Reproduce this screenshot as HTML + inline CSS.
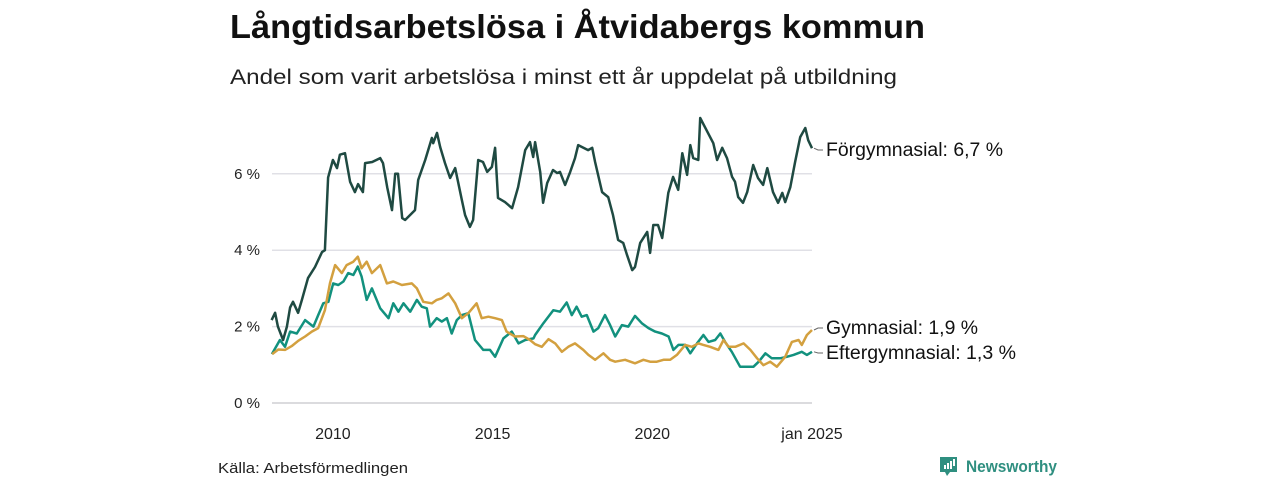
<!DOCTYPE html>
<html><head><meta charset="utf-8">
<style>
body{margin:0;background:#fff;width:1280px;height:480px;overflow:hidden;font-family:"Liberation Sans","DejaVu Sans",sans-serif;}
svg text{font-family:"Liberation Sans","DejaVu Sans",sans-serif;}
</style></head><body>
<svg width="1280" height="480" viewBox="0 0 1280 480">
<text x="230" y="38" font-size="33" font-weight="bold" fill="#111" textLength="695" lengthAdjust="spacingAndGlyphs">Långtidsarbetslösa i Åtvidabergs kommun</text>
<text x="230" y="84" font-size="21" fill="#222" textLength="667" lengthAdjust="spacingAndGlyphs">Andel som varit arbetslösa i minst ett år uppdelat på utbildning</text>
<g id="grid"></g><g id="series"></g><g id="labels"></g>
<text x="218" y="473" font-size="15" fill="#222" textLength="190" lengthAdjust="spacingAndGlyphs">Källa: Arbetsförmedlingen</text>
<g>
<path d="M940 457h17v15h-7l-3 4-2-4h-5z" fill="#2f8f80"/>
<rect x="944" y="465" width="2" height="4" fill="#fff"/><rect x="947" y="463" width="2" height="6" fill="#fff"/><rect x="950" y="461" width="2" height="8" fill="#fff"/><rect x="953" y="459" width="2" height="7" fill="#fff"/>
<text x="966" y="472" font-size="17" font-weight="bold" fill="#2f8f80" textLength="91" lengthAdjust="spacingAndGlyphs">Newsworthy</text>
</g>
</svg>
<script>
const yTicks=[0,2,4,6];
const xTicks=[2010,2015,2020,2025];
const xTickLabels=["2010","2015","2020","jan 2025"];
const forT=[2008.08,2008.19,2008.28,2008.44,2008.56,2008.66,2008.75,2008.91,2009.03,2009.22,2009.44,2009.66,2009.75,2009.85,2010.0,2010.13,2010.22,2010.38,2010.54,2010.69,2010.79,2010.94,2011.01,2011.23,2011.48,2011.57,2011.70,2011.85,2011.95,2012.04,2012.17,2012.26,2012.57,2012.67,2012.89,2013.10,2013.14,2013.26,2013.36,2013.51,2013.67,2013.83,2014.04,2014.14,2014.29,2014.39,2014.55,2014.70,2014.83,2014.98,2015.08,2015.17,2015.39,2015.61,2015.80,2016.02,2016.17,2016.27,2016.33,2016.49,2016.58,2016.71,2016.89,2017.02,2017.11,2017.27,2017.43,2017.58,2017.68,2017.99,2018.12,2018.21,2018.43,2018.62,2018.77,2018.93,2019.09,2019.21,2019.37,2019.46,2019.62,2019.84,2019.93,2020.03,2020.18,2020.31,2020.50,2020.65,2020.81,2020.94,2021.09,2021.19,2021.28,2021.44,2021.50,2021.91,2022.03,2022.19,2022.34,2022.50,2022.59,2022.69,2022.84,2022.97,2023.16,2023.31,2023.47,2023.60,2023.78,2023.94,2024.07,2024.16,2024.32,2024.47,2024.63,2024.79,2024.88,2025.0];
const forV=[2.17,2.36,2.0,1.65,2.0,2.5,2.65,2.36,2.7,3.27,3.56,3.95,4.0,5.9,6.36,6.15,6.5,6.54,5.79,5.52,5.73,5.52,6.28,6.31,6.41,6.28,5.65,5.05,6.0,6.0,4.84,4.79,5.05,5.84,6.36,6.94,6.8,7.07,6.7,6.28,5.89,6.15,5.31,4.92,4.61,4.79,6.36,6.31,6.05,6.18,6.68,5.37,5.26,5.10,5.65,6.62,6.83,6.44,6.83,6.05,5.24,5.76,6.10,6.02,6.05,5.71,6.05,6.41,6.75,6.62,6.68,6.31,5.52,5.39,4.92,4.27,4.19,3.87,3.48,3.56,4.19,4.48,3.93,4.66,4.66,4.32,5.50,5.92,5.58,6.54,5.97,6.75,6.41,6.36,7.46,6.80,6.36,6.68,6.41,5.92,5.79,5.39,5.24,5.52,6.23,5.89,5.71,6.15,5.52,5.24,5.50,5.26,5.65,6.31,6.96,7.20,6.88,6.67];
const gymT=[2008.10,2008.29,2008.50,2008.71,2008.92,2009.13,2009.34,2009.54,2009.75,2009.91,2010.07,2010.28,2010.43,2010.64,2010.78,2010.90,2011.06,2011.22,2011.48,2011.69,2011.89,2012.16,2012.47,2012.63,2012.83,2013.10,2013.25,2013.41,2013.62,2013.83,2014.04,2014.24,2014.50,2014.66,2014.87,2015.08,2015.29,2015.44,2015.70,2015.96,2016.17,2016.33,2016.54,2016.75,2016.96,2017.17,2017.37,2017.58,2017.84,2018.00,2018.21,2018.47,2018.68,2018.84,2019.15,2019.46,2019.72,2019.93,2020.14,2020.35,2020.56,2020.77,2021.03,2021.24,2021.45,2021.60,2021.81,2022.07,2022.23,2022.39,2022.60,2022.86,2023.07,2023.28,2023.48,2023.69,2023.90,2024.16,2024.37,2024.58,2024.68,2024.84,2025.0];
const gymV=[1.28,1.40,1.39,1.49,1.63,1.74,1.87,1.96,2.43,3.14,3.61,3.40,3.61,3.70,3.83,3.53,3.70,3.40,3.61,3.13,3.18,3.09,3.13,3.00,2.65,2.61,2.70,2.74,2.87,2.61,2.22,2.35,2.61,2.22,2.26,2.22,2.17,1.87,1.74,1.75,1.65,1.54,1.47,1.67,1.56,1.34,1.47,1.56,1.39,1.26,1.13,1.30,1.13,1.08,1.13,1.04,1.13,1.08,1.08,1.13,1.13,1.26,1.52,1.47,1.56,1.52,1.47,1.39,1.65,1.47,1.47,1.56,1.39,1.17,0.99,1.08,0.95,1.21,1.60,1.65,1.52,1.78,1.91];
const eftT=[2008.09,2008.34,2008.50,2008.66,2008.87,2009.13,2009.39,2009.54,2009.70,2009.86,2010.01,2010.17,2010.33,2010.48,2010.64,2010.78,2010.90,2011.06,2011.22,2011.48,2011.74,2011.89,2012.05,2012.21,2012.42,2012.63,2012.78,2012.94,2013.04,2013.25,2013.41,2013.57,2013.72,2013.88,2014.04,2014.24,2014.45,2014.71,2014.92,2015.08,2015.34,2015.60,2015.81,2016.02,2016.28,2016.33,2016.59,2016.90,2017.11,2017.32,2017.48,2017.63,2017.79,2017.95,2018.16,2018.31,2018.52,2018.68,2018.84,2019.05,2019.25,2019.46,2019.67,2019.88,2020.09,2020.30,2020.51,2020.66,2020.82,2021.03,2021.19,2021.40,2021.60,2021.76,2021.97,2022.13,2022.28,2022.49,2022.75,2022.96,2023.17,2023.33,2023.54,2023.74,2024.00,2024.21,2024.42,2024.68,2024.84,2025.0];
const eftV=[1.28,1.65,1.47,1.87,1.82,2.17,2.00,2.30,2.61,2.65,3.13,3.09,3.18,3.40,3.35,3.57,3.31,2.70,3.00,2.48,2.22,2.61,2.39,2.61,2.39,2.70,2.52,2.48,2.00,2.22,2.13,2.22,1.82,2.17,2.30,2.35,1.65,1.39,1.39,1.21,1.69,1.87,1.56,1.65,1.69,1.78,2.09,2.43,2.39,2.63,2.30,2.52,2.26,2.30,1.87,1.96,2.30,2.04,1.74,2.04,2.00,2.28,2.09,1.96,1.87,1.82,1.74,1.39,1.52,1.52,1.30,1.56,1.78,1.60,1.65,1.82,1.60,1.34,0.95,0.95,0.95,1.08,1.30,1.17,1.17,1.21,1.26,1.34,1.26,1.34];
const seriesNames=["Förgymnasial","Gymnasial","Eftergymnasial"];
const lastLabels=["6,7","1,9","1,3"];

const NS="http://www.w3.org/2000/svg";
const X0=269,X1=812,Y0=403,Ypp=38.2;
const xs=t=>X0+(t-2008)*(X1-X0)/17;
const ys=v=>Y0-v*Ypp;
function mk(tag,attrs,parent){const e=document.createElementNS(NS,tag);for(const k in attrs)e.setAttribute(k,attrs[k]);parent.appendChild(e);return e;}
const grid=document.getElementById('grid');
yTicks.forEach(v=>{
  const l=mk('line',{x1:272,x2:812,y1:ys(v),y2:ys(v),stroke:v===0?'#cfcfd4':'#e0e0e6','stroke-width':1.5},grid);
  
  
  const t=mk('text',{x:260,y:ys(v)+5,'font-size':15,fill:'#222','text-anchor':'end'},grid);
  t.textContent=v+' %';
  
  
});
xTicks.forEach((v,i)=>{
  const t=mk('text',{x:xs(v),y:439,'font-size':16,fill:'#222','text-anchor':'middle'},grid);
  t.textContent=xTickLabels[i];
  
  
});
const ser=document.getElementById('series');
const defs=[[forT,forV,'#1f4a42'],[gymT,gymV,'#d3a03f'],[eftT,eftV,'#12917e']];
const drawOrder=[2,1,0];
drawOrder.forEach(i=>{
  const [T,V,c]=defs[i];
  const d=T.map((t,j)=>(j?'L':'M')+xs(t).toFixed(1)+' '+ys(V[j]).toFixed(1)).join('');
  const p=mk('path',{d:d,fill:'none',stroke:c,'stroke-width':2.5,'stroke-linejoin':'round'},ser);
  
  
});
const lab=document.getElementById('labels');
const labY=[150,328,353];
const labW=[177,152,190];
defs.forEach((s,i)=>{
  const V=s[1];const yl=ys(V[V.length-1]);
  mk('path',{d:`M814 ${yl.toFixed(1)}L818 ${labY[i]}L823 ${labY[i]}`,fill:'none',stroke:'#666','stroke-width':1},lab);
  const t=mk('text',{x:826,y:labY[i]+6,'font-size':19,fill:'#111',textLength:labW[i],lengthAdjust:'spacingAndGlyphs'},lab);
  t.textContent=seriesNames[i]+': '+lastLabels[i]+' %';
  
  
});
</script>
</body></html>
